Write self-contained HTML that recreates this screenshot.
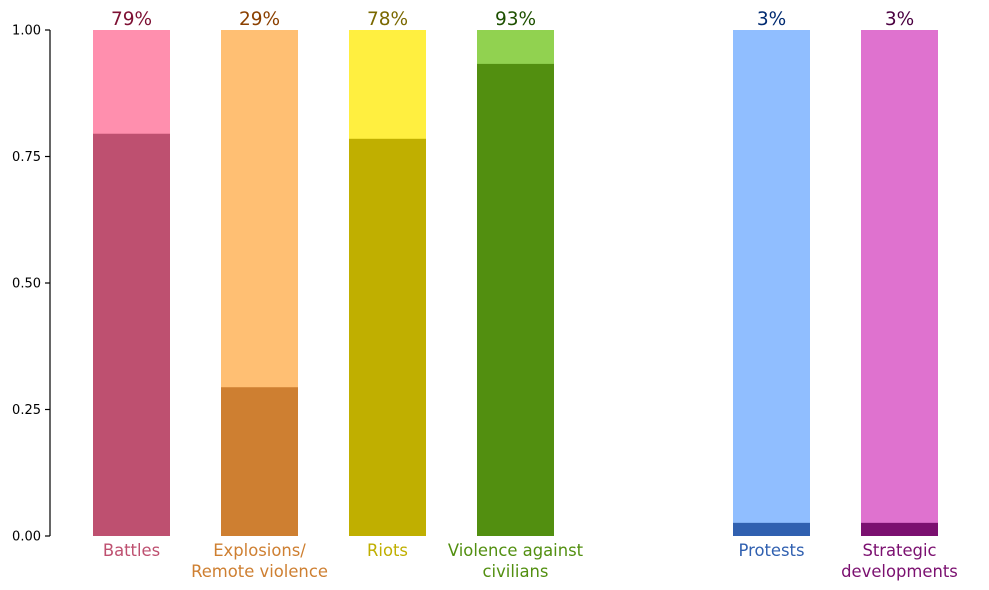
<!DOCTYPE html>
<html><head><meta charset="utf-8"><style>body{margin:0;background:#fff}svg{display:block;font-family:"DejaVu Sans","Liberation Sans",sans-serif}</style></head>
<body>
<svg id="chart" width="989" height="590" viewBox="0 0 989 590"></svg>
<script>
const categories = ["Battles","Explosions/\nRemote violence","Riots","Violence against\ncivilians","Protests","Strategic\ndevelopments"];
const positions = [0,1,2,3,5,6];
const shares = [0.795,0.294,0.785,0.933,0.026,0.026];
const pctLabels = ["79%","29%","78%","93%","3%","3%"];
const yTicks = [0,0.25,0.5,0.75,1.0];
const yTickLabels = ["0.00","0.25","0.50","0.75","1.00"];
const darkColors = ["#be5070","#ce7f31","#c0af00","#528f10","#3060b0","#7b1070"];
const lightColors = ["#ff8fae","#ffbf73","#ffef40","#91d250","#90beff","#df72cf"];
const textColors = ["#be5070","#ce7f31","#c0af00","#528f10","#3060b0","#7b1070"];
const pctColors = ["#7d1033","#8b4000","#7a6800","#1d5000","#002a70","#4a0040"];
const NS="http://www.w3.org/2000/svg";
const svg=document.getElementById('chart');
const y0=536,y1=30;
const yS=v=>y0-(y0-y1)*v;
const xS=p=>131.5+128*p;
const bw=77;
function mk(t,a){const e=document.createElementNS(NS,t);for(const k in a)e.setAttribute(k,a[k]);svg.appendChild(e);return e;}
const ax=mk('line',{x1:50,x2:50,y1:y1,y2:y0,stroke:'#000','stroke-width':1.2});


yTicks.forEach((v,i)=>{
  const t=mk('line',{x1:45,x2:50,y1:yS(v),y2:yS(v),stroke:'#000','stroke-width':1.2});
  
  
  const l=mk('text',{x:41,y:yS(v)+4.5,'text-anchor':'end','font-size':13,fill:'#000'});
  l.textContent=yTickLabels[i];
  
  
});
categories.forEach((c,i)=>{
  const xc=xS(positions[i]);
  const bg=mk('rect',{x:xc-bw/2,y:yS(1),width:bw,height:yS(0)-yS(1),fill:lightColors[i]});
  
  
  const fg=mk('rect',{x:xc-bw/2,y:yS(shares[i]),width:bw,height:yS(0)-yS(shares[i]),fill:darkColors[i]});
  
  
  const p=mk('text',{x:xc,y:25,'text-anchor':'middle','font-size':18.5,fill:pctColors[i]});
  p.textContent=pctLabels[i];
  
  
  const lines=c.split('\n');
  const t=mk('text',{'text-anchor':'middle','font-size':16.4,fill:textColors[i]});
  
  
  lines.forEach((ln,j)=>{const s=document.createElementNS(NS,'tspan');s.setAttribute('x',xc);s.setAttribute('y',556+j*21);s.textContent=ln;t.appendChild(s);});
});
</script>
</body></html>
